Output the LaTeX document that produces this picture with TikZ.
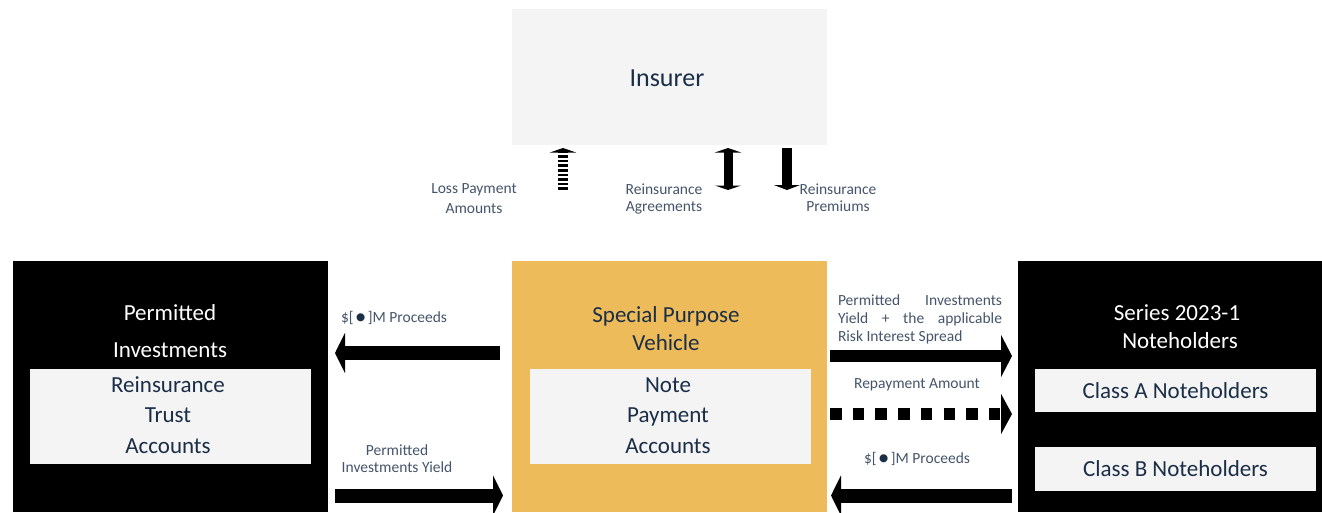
\documentclass[tikz,border=0pt]{standalone}
\usepackage{fontspec}
\setmainfont{Carlito}
\newfontfamily\symf{DejaVu Sans}
\usetikzlibrary{arrows.meta}
\definecolor{spvyellow}{HTML}{EDBB59}
\definecolor{lightbox}{HTML}{F4F4F4}
\definecolor{navy}{HTML}{1B2E47}
\definecolor{lbl}{HTML}{44546A}
\newcommand{\blt}{\,\raisebox{1.6pt}{\color{navy}\symf\fontsize{10.5}{10.5}\selectfont ●}\,}
\tikzset{
  boxfill/.style={fill=#1, draw=none, inner sep=0pt, anchor=north west},
  big/.style={font=\fontsize{23}{28}\selectfont, text=navy, inner sep=0pt, align=center, anchor=base},
  bigw/.style={font=\fontsize{23}{28}\selectfont, text=white, inner sep=0pt, align=center, anchor=base},
  lab/.style={font=\fontsize{15.5}{18}\selectfont, text=lbl, inner sep=0pt, align=center, anchor=base},
  harrow/.style={line width=14pt, -{Triangle[width=40pt,length=10pt]}},
}
\begin{document}
\begin{tikzpicture}[x=1pt,y=-1pt]
\useasboundingbox (0,0) rectangle (1322,512);
% boxes
\node[boxfill=lightbox, minimum width=315pt, minimum height=136pt] (ins) at (512,9) {};
\node[boxfill=black, minimum width=315pt, minimum height=251pt] (pi) at (13,261) {};
\node[boxfill=spvyellow, minimum width=315pt, minimum height=251pt] (spv) at (512,261) {};
\node[boxfill=black, minimum width=304pt, minimum height=251pt] (nh) at (1018,261) {};
\node[boxfill=lightbox, minimum width=281pt, minimum height=95pt] (rta) at (30,369) {};
\node[boxfill=lightbox, minimum width=281pt, minimum height=95pt] (npa) at (530,369) {};
\node[boxfill=lightbox, minimum width=281pt, minimum height=43pt] (cla) at (1035,369) {};
\node[boxfill=lightbox, minimum width=281pt, minimum height=44pt] (clb) at (1035,447) {};
% box texts (baselines)
\node[big, font=\fontsize{26}{30}\selectfont] (tins) at (667,86.5) {Insurer};
\node[bigw] (tpi1) at (170,320.5) {Permitted};
\node[bigw] (tpi2) at (170,357.5) {Investments};
\node[big] (trta1) at (168,392.5) {Reinsurance};
\node[big] (trta2) at (168,422.5) {Trust};
\node[big] (trta3) at (168,453.5) {Accounts};
\node[big] (tspv1) at (666,322.5) {Special Purpose};
\node[big] (tspv2) at (666,350.5) {Vehicle};
\node[big] (tnpa1) at (668,392.5) {Note};
\node[big] (tnpa2) at (668,422.5) {Payment};
\node[big] (tnpa3) at (668,453.5) {Accounts};
\node[bigw] (tnh1) at (1177,320.5) {Series 2023-1};
\node[bigw] (tnh2) at (1180,348.5) {Noteholders};
\node[big] (tcla) at (1175.5,398.5) {Class A Noteholders};
\node[big] (tclb) at (1175.5,476.5) {Class B Noteholders};
% vertical arrows
\coordinate (lp1) at (563,190); \coordinate (lp2) at (563,148);
\coordinate (ra1) at (728,148); \coordinate (ra2) at (728,190);
\coordinate (rp1) at (787,148); \coordinate (rp2) at (787,190);
\draw[line width=10pt, dash pattern=on 2.6pt off 2pt, -{Triangle[width=26pt,length=4.5pt]}] (lp1) -- (lp2);
\draw[line width=9pt, {Triangle[width=26pt,length=4.5pt]}-{Triangle[width=26pt,length=4.5pt]}] (ra1) -- (ra2);
\draw[line width=10pt, -{Triangle[width=26pt,length=5pt]}] (rp1) -- (rp2);
\node[lab, font=\fontsize{15.5}{20}\selectfont] (llp) at (474,213) {Loss Payment\\Amounts};
\node[lab, font=\fontsize{15.5}{17}\selectfont] (lra) at (664,211) {Reinsurance\\Agreements};
\node[lab, font=\fontsize{15.5}{17}\selectfont] (lrp) at (838,211) {Reinsurance\\Premiums};
% horizontal arrows left
\coordinate (pr1) at (500,353); \coordinate (pr2) at (335,353);
\coordinate (py1) at (335,495.5); \coordinate (py2) at (503,495.5);
\draw[harrow] (pr1) -- (pr2);
\draw[harrow] (py1) -- (py2);
\node[lab] (lpr) at (394,322) {\$[\blt]M Proceeds};
\node[lab, font=\fontsize{15.5}{17}\selectfont] (lpy) at (397,472) {Permitted\\Investments Yield};
% horizontal arrows right
\coordinate (ry1) at (830,356); \coordinate (ry2) at (1012,356);
\coordinate (rm1) at (830,414); \coordinate (rm2) at (1012,414);
\coordinate (rq1) at (1012,495.5); \coordinate (rq2) at (831,495.5);
\draw[line width=12pt, -{Triangle[width=42pt,length=11pt]}] (ry1) -- (ry2);
\draw[line width=12.5pt, dash pattern=on 11.5pt off 11.2pt, -{Triangle[width=40pt,length=11pt]}] (rm1) -- (rm2);
\draw[harrow] (rq1) -- (rq2);
\node[lab, align=left] (lry) at (920,341) {\hbox to 164pt{Permitted\hfill Investments}\\\hbox to 164pt{Yield\hfill +\hfill the\hfill applicable}\\Risk Interest Spread};
\node[lab] (lrm) at (917,388) {Repayment Amount};
\node[lab] (lrq) at (917,463) {\$[\blt]M Proceeds};
\end{tikzpicture}
\end{document}
